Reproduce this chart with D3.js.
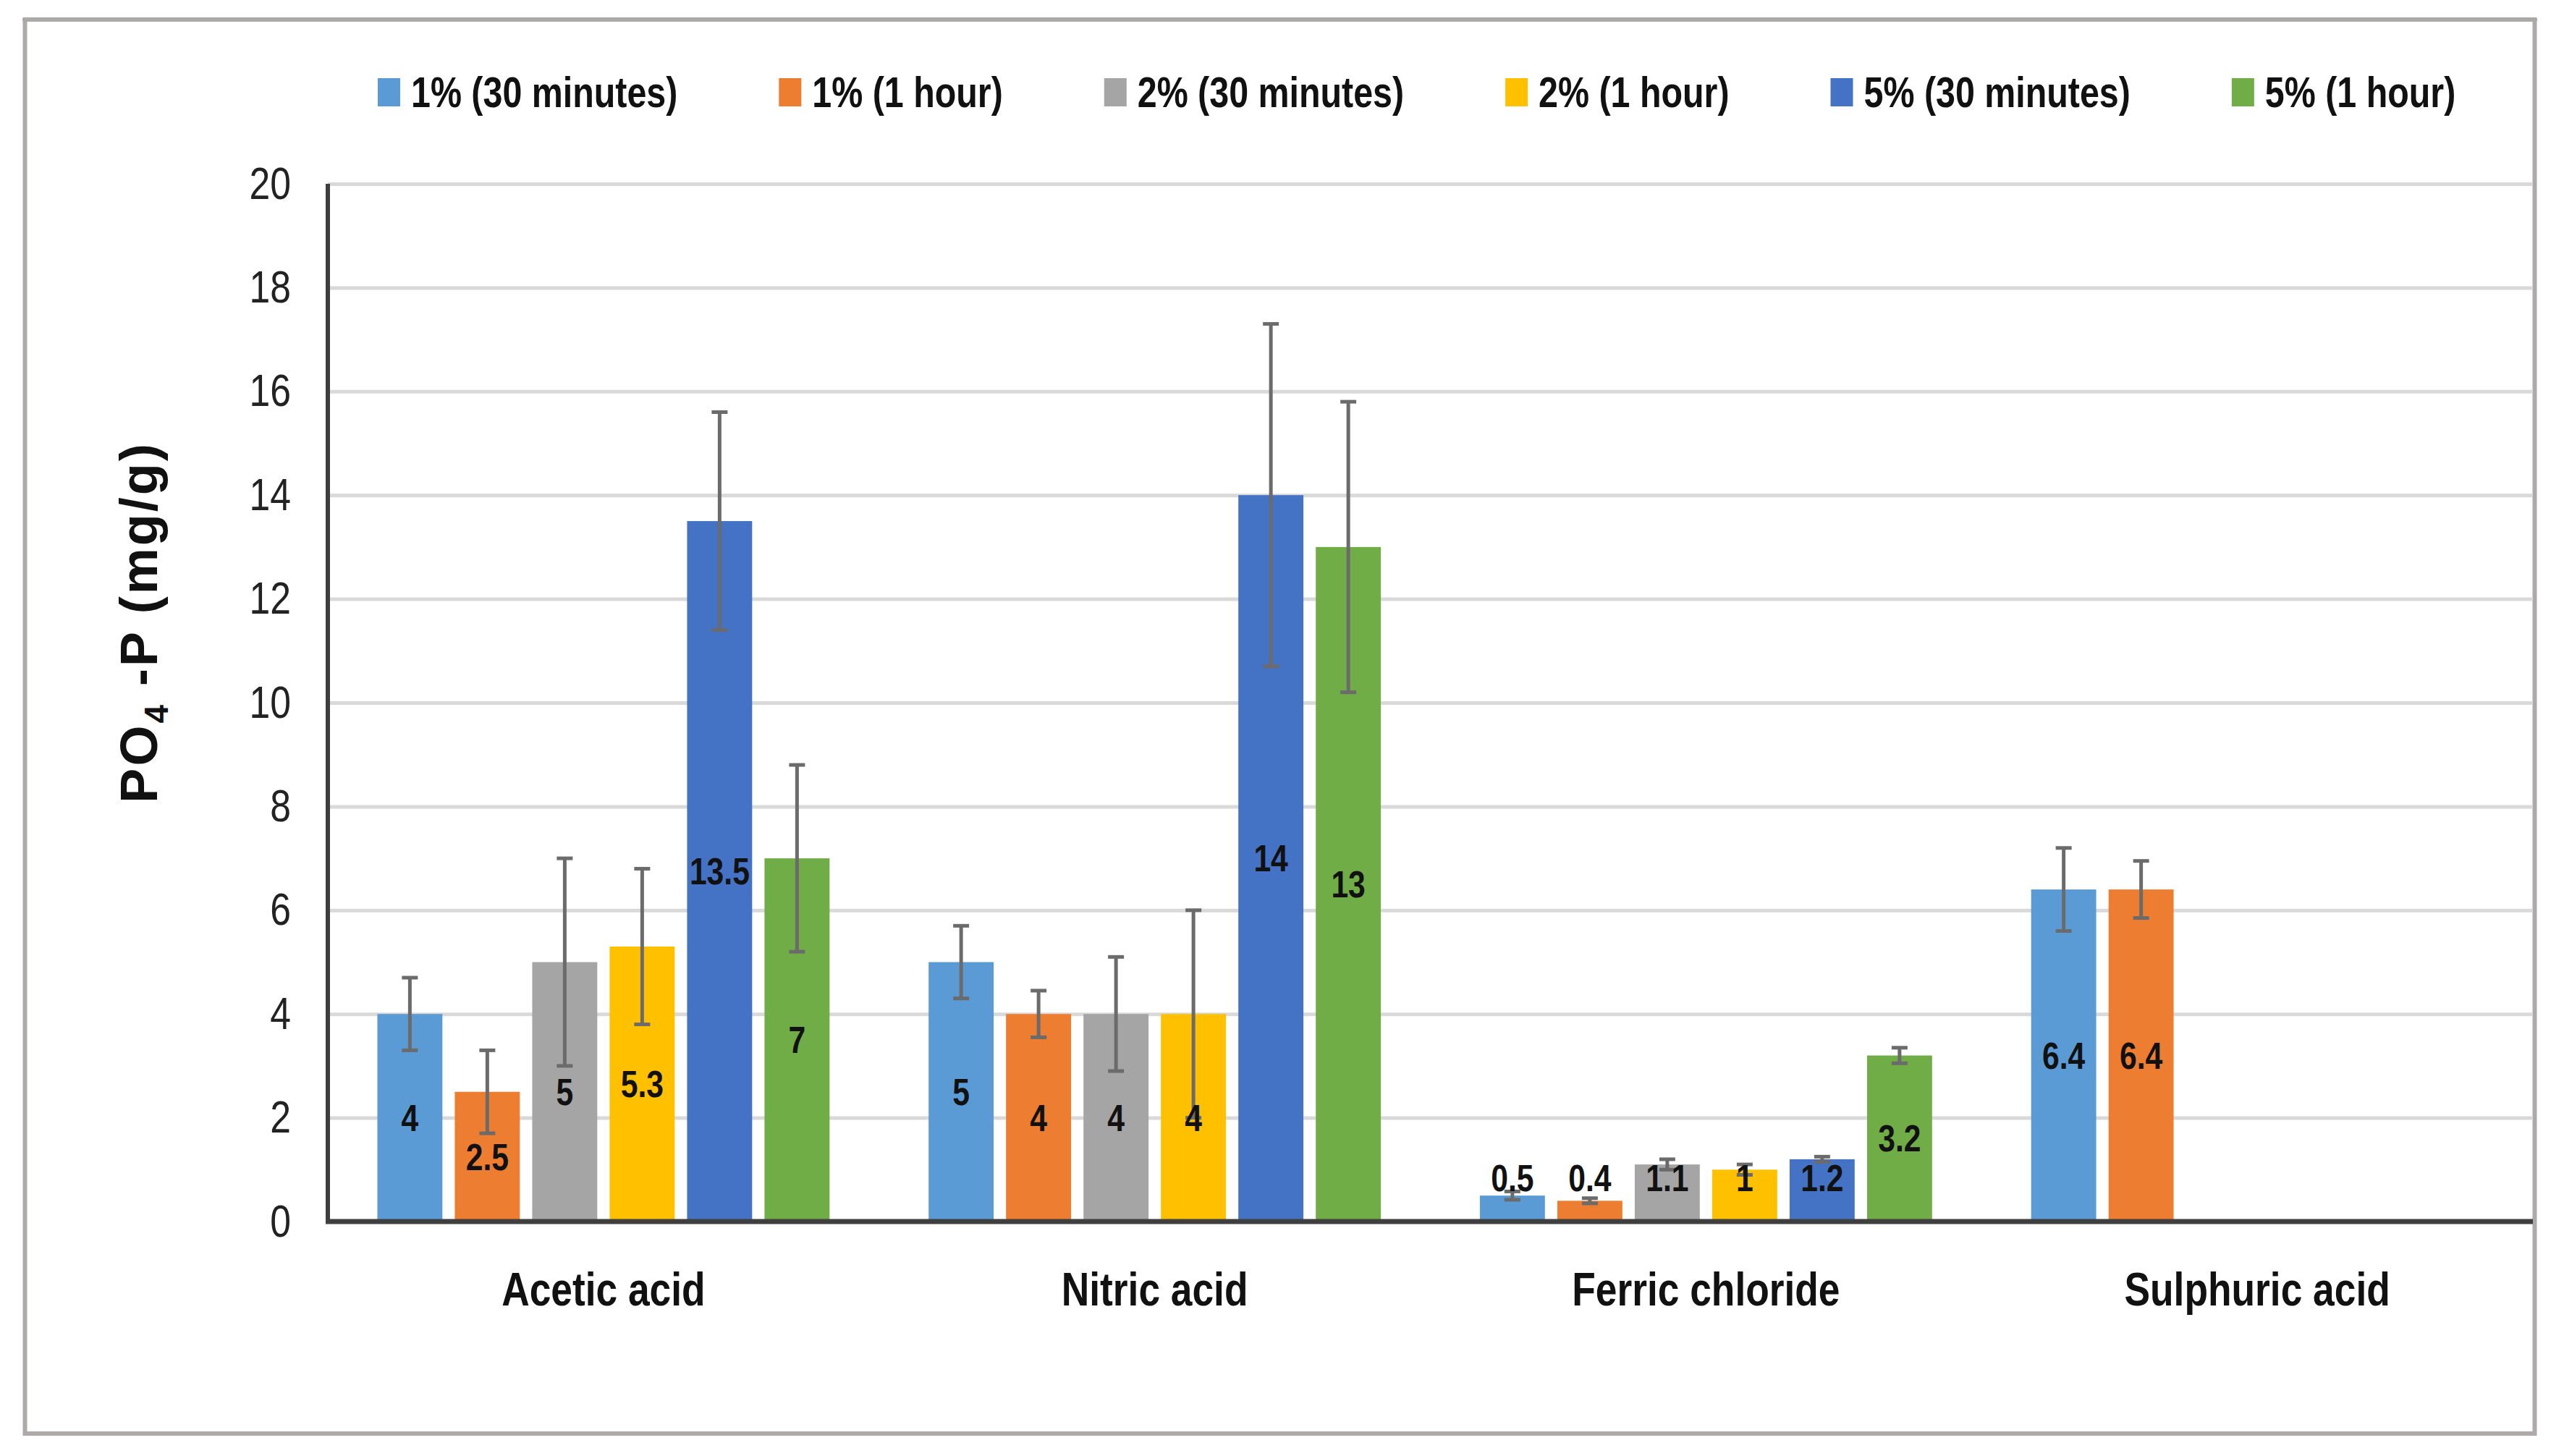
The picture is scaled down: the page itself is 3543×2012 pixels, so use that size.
<!DOCTYPE html>
<html>
<head>
<meta charset="utf-8">
<script src="https://cdn.jsdelivr.net/npm/d3@7"></script>
<style>
  body { margin: 0; background: #fff; }
  svg { display: block; }
</style>
</head>
<body>
<svg id="chart" width="3543" height="2012"></svg>
<script>
// categories and series
const categories = ["Acetic acid", "Nitric acid", "Ferric chloride", "Sulphuric acid"];
const seriesNames = ["1% (30 minutes)", "1% (1 hour)", "2% (30 minutes)", "2% (1 hour)", "5% (30 minutes)", "5% (1 hour)"];
const seriesColors = ["#5B9BD5", "#ED7D31", "#A5A5A5", "#FFC000", "#4472C4", "#70AD47"];

// PO4-P values (mg/g), one array per series, in category order
const val1pct30 = [4, 5, 0.5, 6.4];
const val1pct60 = [2.5, 4, 0.4, 6.4];
const val2pct30 = [5, 4, 1.1, null];
const val2pct60 = [5.3, 4, 1, null];
const val5pct30 = [13.5, 14, 1.2, null];
const val5pct60 = [7, 13, 3.2, null];

// error bar half-lengths
const err1pct30 = [0.7, 0.7, 0.08, 0.8];
const err1pct60 = [0.8, 0.45, 0.05, 0.55];
const err2pct30 = [2, 1.1, 0.1, null];
const err2pct60 = [1.5, 2, 0.1, null];
const err5pct30 = [2.1, 3.3, 0.05, null];
const err5pct60 = [1.8, 2.8, 0.15, null];

const yTicks = [0, 2, 4, 6, 8, 10, 12, 14, 16, 18, 20];

const allValues = [val1pct30, val1pct60, val2pct30, val2pct60, val5pct30, val5pct60];
const allErrors = [err1pct30, err1pct60, err2pct30, err2pct60, err5pct30, err5pct60];

// flat table for drawing
const rows = [];
categories.forEach((c, ci) => {
  seriesNames.forEach((s, si) => {
    const v = allValues[si][ci];
    if (v != null) rows.push({ cat: c, series: s, si: si, value: v, err: allErrors[si][ci] });
  });
});

const NARROW = "'Liberation Sans Narrow', 'Arial Narrow', 'Liberation Sans', sans-serif";

// is a narrow face installed? if not, squeeze the regular one
const ctx = document.createElement("canvas").getContext("2d");
ctx.font = "bold 50px " + NARROW;
const wNarrow = ctx.measureText("1% (30 minutes)").width;
ctx.font = "bold 50px 'Liberation Sans', sans-serif";
const wRegular = ctx.measureText("1% (30 minutes)").width;
const squeeze = Math.abs(wNarrow - wRegular) < 1 ? 0.82 : 1;

function narrow(sel) {
  if (squeeze === 1) return;
  sel.each(function () {
    const w = this.getComputedTextLength();
    this.setAttribute("textLength", w * squeeze);
    this.setAttribute("lengthAdjust", "spacingAndGlyphs");
  });
}

const svg = d3.select("#chart");
svg.append("rect").attr("width", 3543).attr("height", 2012).attr("fill", "#fff");

// frame around the figure
svg.append("rect")
  .attr("x", 34.5).attr("y", 27).attr("width", 3468).attr("height", 1954)
  .attr("fill", "none").attr("stroke", "#aeaaa9").attr("stroke-width", 6);
svg.append("line")
  .attr("x1", 31).attr("x2", 3506).attr("y1", 27).attr("y2", 27)
  .attr("stroke", "#a8a8a8").attr("stroke-width", 3);

const plotLeft = 453, plotRight = 3500, plotTop = 254, plotBottom = 1688;

const x0 = d3.scaleBand().domain(categories).range([plotLeft, plotRight]);
const groupW = 642;
const x1 = d3.scaleBand().domain(seriesNames).range([0, groupW]).paddingInner(0.16).paddingOuter(0.08);
const y = d3.scaleLinear().domain([0, 20]).range([plotBottom, plotTop]);
const color = d3.scaleOrdinal().domain(seriesNames).range(seriesColors);

const g = svg.append("g");

// gridlines
g.append("g")
  .attr("transform", `translate(${plotLeft},0)`)
  .call(d3.axisLeft(y).tickValues(yTicks).tickSize(-(plotRight - plotLeft)).tickFormat(""))
  .call(a => a.select(".domain").remove())
  .call(a => a.selectAll("line").attr("stroke", "#d9d9d9").attr("stroke-width", 5));

// bars
const barX = d => x0(d.cat) + (x0.bandwidth() - groupW) / 2 + x1(d.series);
g.selectAll("rect.bar")
  .data(rows)
  .join("rect")
  .attr("class", "bar")
  .attr("x", barX)
  .attr("width", x1.bandwidth())
  .attr("y", d => y(d.value))
  .attr("height", d => y(0) - y(d.value))
  .attr("fill", d => color(d.series));

// error bars
const eb = g.selectAll("g.err").data(rows).join("g").attr("class", "err")
  .attr("stroke", "#6b6b6b").attr("stroke-width", 5);
const cx = d => barX(d) + x1.bandwidth() / 2;
eb.append("line")
  .attr("x1", cx).attr("x2", cx)
  .attr("y1", d => y(d.value + d.err)).attr("y2", d => y(d.value - d.err));
eb.append("line")
  .attr("x1", d => cx(d) - 11).attr("x2", d => cx(d) + 11)
  .attr("y1", d => y(d.value + d.err)).attr("y2", d => y(d.value + d.err));
eb.append("line")
  .attr("x1", d => cx(d) - 11).attr("x2", d => cx(d) + 11)
  .attr("y1", d => y(d.value - d.err)).attr("y2", d => y(d.value - d.err));

// data labels, centred in the bar (kept clear of the axis for short bars)
g.selectAll("text.lab")
  .data(rows)
  .join("text")
  .attr("class", "lab")
  .attr("x", cx)
  .attr("y", d => Math.min(y(d.value / 2), y(0) - 60))
  .attr("dy", "0.35em")
  .attr("text-anchor", "middle")
  .attr("font-family", NARROW)
  .attr("font-weight", "bold")
  .attr("font-size", 52)
  .attr("fill", "#111")
  .text(d => d.value)
  .call(narrow);

// y axis labels
g.append("g")
  .attr("transform", `translate(${plotLeft},0)`)
  .call(d3.axisLeft(y).tickValues(yTicks).tickSize(0).tickPadding(51))
  .call(a => a.select(".domain").remove())
  .call(a => a.selectAll("text")
    .attr("font-family", NARROW).attr("font-size", 63).attr("fill", "#222")
    .call(narrow));

// x axis labels
g.append("g")
  .attr("transform", `translate(0,${plotBottom})`)
  .call(d3.axisBottom(x0).tickSize(0).tickPadding(70))
  .call(a => a.select(".domain").remove())
  .call(a => a.selectAll("text")
    .attr("font-family", NARROW).attr("font-weight", "bold").attr("font-size", 65).attr("fill", "#111")
    .call(narrow));

// axis lines
g.append("line").attr("x1", plotLeft).attr("x2", plotLeft).attr("y1", plotTop).attr("y2", plotBottom)
  .attr("stroke", "#3f3f3f").attr("stroke-width", 6);
g.append("line").attr("x1", plotLeft - 3).attr("x2", plotRight).attr("y1", plotBottom).attr("y2", plotBottom)
  .attr("stroke", "#3f3f3f").attr("stroke-width", 7);

// y axis title
const yt = svg.append("text")
  .attr("transform", "translate(217,860) rotate(-90)")
  .attr("text-anchor", "middle")
  .attr("font-family", "'Liberation Sans', Arial, sans-serif")
  .attr("font-weight", "bold")
  .attr("font-size", 72)
  .attr("letter-spacing", 3)
  .attr("fill", "#111");
yt.append("tspan").text("PO");
yt.append("tspan").attr("font-size", 46).attr("dy", 15).text("4");
yt.append("tspan").attr("dy", -15).text(" -P (mg/g)");

// legend
const legend = svg.append("g").attr("transform", "translate(522,0)");
let lx = 0;
seriesNames.forEach(s => {
  const item = legend.append("g").attr("transform", `translate(${lx},0)`);
  item.append("rect").attr("x", 0).attr("y", 108).attr("width", 31).attr("height", 39).attr("fill", color(s));
  const t = item.append("text")
    .attr("x", 46).attr("y", 148)
    .attr("font-family", NARROW).attr("font-weight", "bold").attr("font-size", 59).attr("fill", "#111")
    .text(s);
  const w = t.node().getComputedTextLength() * squeeze;
  t.call(narrow);
  lx += 46 + w + 140;
});
</script>
</body>
</html>
